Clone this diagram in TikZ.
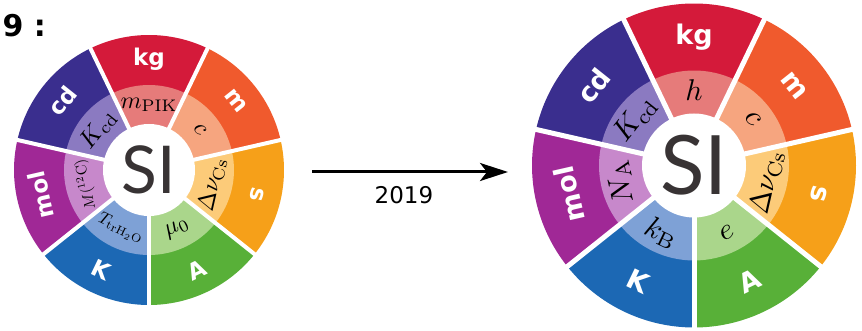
\documentclass[tikz,border=0pt]{standalone}
\usepackage{fontspec}
\newfontfamily\unitfont{DejaVu Sans}
\newfontfamily\sifont{Lato}
\newfontfamily\yearfont{DejaVu Sans}
\usetikzlibrary{arrows.meta}

% base unit colours (outer ring) and their light versions (inner ring)
\definecolor{kgout}{HTML}{D41A3A}
\definecolor{kgin}{HTML}{E67B7A}
\definecolor{mout}{HTML}{F05A2D}
\definecolor{min}{HTML}{F6A57F}
\definecolor{sout}{HTML}{F6A019}
\definecolor{sin}{HTML}{FCCB79}
\definecolor{Aout}{HTML}{58B038}
\definecolor{Ain}{HTML}{AAD68B}
\definecolor{Kout}{HTML}{1C68B4}
\definecolor{Kin}{HTML}{7EA1D6}
\definecolor{molout}{HTML}{A02896}
\definecolor{molin}{HTML}{C788CB}
\definecolor{cdout}{HTML}{3A2E8E}
\definecolor{cdin}{HTML}{8B7AC1}
\definecolor{sigrey}{HTML}{383334}

\begin{document}
\begin{tikzpicture}[x=1pt,y=1pt,
  unitlabel/.style={text=white,font=\unitfont\bfseries\fontsize{#1}{#1}\selectfont},
  constlabel/.style={scale=#1},
  silabel/.style={text=sigrey,font=\sifont\fontsize{#1}{#1}\selectfont},
  gap/.style={white,line width=#1}]
\useasboundingbox (0,0) rectangle (862,331);

\node[anchor=base west,font=\yearfont\bfseries\fontsize{30}{30}\selectfont] (fig) at (-1,294) {9 :};

% wheel before the redefinition
\begin{scope}[shift={(149,161)}]
\foreach \a/\col/\name/\const/\ru/\rc/\sc in {
  90/kg/kg/{m_{\mathrm{PIK}}}/0/0/2.4,
  38.571/m/m/{c}/-51.43/-51.43/2.4,
  347.143/s/s/{\Delta\nu_{\mathrm{Cs}}}/-102.86/77.14/2.4,
  295.714/A/A/{\mu_0}/25.71/25.71/2.4,
  244.286/K/K/{T_{\mathrm{trH_2O}}}/-25.71/-25.71/1.7,
  192.857/mol/mol/{M(^{12}\mathrm{C})}/102.86/102.86/1.5,
  141.429/cd/cd/{K_{\mathrm{cd}}}/51.43/51.43/2.5} {
  \fill[\col out] (0,0) -- (\a-25.714:135) arc[start angle=\a-25.714,end angle=\a+25.714,radius=135] -- cycle;
  \fill[\col in] (0,0) -- (\a-25.714:85) arc[start angle=\a-25.714,end angle=\a+25.714,radius=85] -- cycle;
  \node[unitlabel=23,rotate=\ru] (old-\name) at (\a:111) {\name};
  \node[constlabel=\sc,rotate=\rc] (old-c-\name) at (\a:65) {$\const$};
}
\foreach \b in {0,...,6}
  \draw[gap=4] (0,0) -- ({270+\b*360/7}:137);
\fill[white] (0,0) circle (46);
\node[silabel=66] (old-SI) at (0,0) {SI};
\end{scope}

% wheel since 2019
\begin{scope}[shift={(694,165.5)}]
\foreach \a/\col/\name/\const/\ru/\rc/\sc in {
  90/kg/kg/{h}/0/0/3,
  38.571/m/m/{c}/-51.43/-51.43/3,
  347.143/s/s/{\Delta\nu_{\mathrm{Cs}}}/-102.86/77.14/2.9,
  295.714/A/A/{e}/25.71/25.71/3,
  244.286/K/K/{k_{\mathrm{B}}}/-25.71/-25.71/3,
  192.857/mol/mol/{N_{\mathrm{A}}}/102.86/102.86/3,
  141.429/cd/cd/{K_{\mathrm{cd}}}/51.43/51.43/3} {
  \fill[\col out] (0,0) -- (\a-25.714:162) arc[start angle=\a-25.714,end angle=\a+25.714,radius=162] -- cycle;
  \fill[\col in] (0,0) -- (\a-25.714:95) arc[start angle=\a-25.714,end angle=\a+25.714,radius=95] -- cycle;
  \node[unitlabel=27,rotate=\ru] (new-\name) at (\a:128) {\name};
  \node[constlabel=\sc,rotate=\rc] (new-c-\name) at (\a:75) {$\const$};
}
\foreach \b in {0,...,6}
  \draw[gap=5] (0,0) -- ({270+\b*360/7}:164);
\fill[white] (0,0) circle (52);
\node[silabel=82] (new-SI) at (0,0) {SI};
\end{scope}

% the change
\coordinate (from) at (312,159);
\coordinate (to) at (508,159);
\draw[line width=3,-{Stealth[length=28pt,width=18pt,inset=7pt]}] (from) -- (to);
\node[font=\yearfont\fontsize{23}{23}\selectfont] (year) at (404,136) {2019};
\end{tikzpicture}
\end{document}
